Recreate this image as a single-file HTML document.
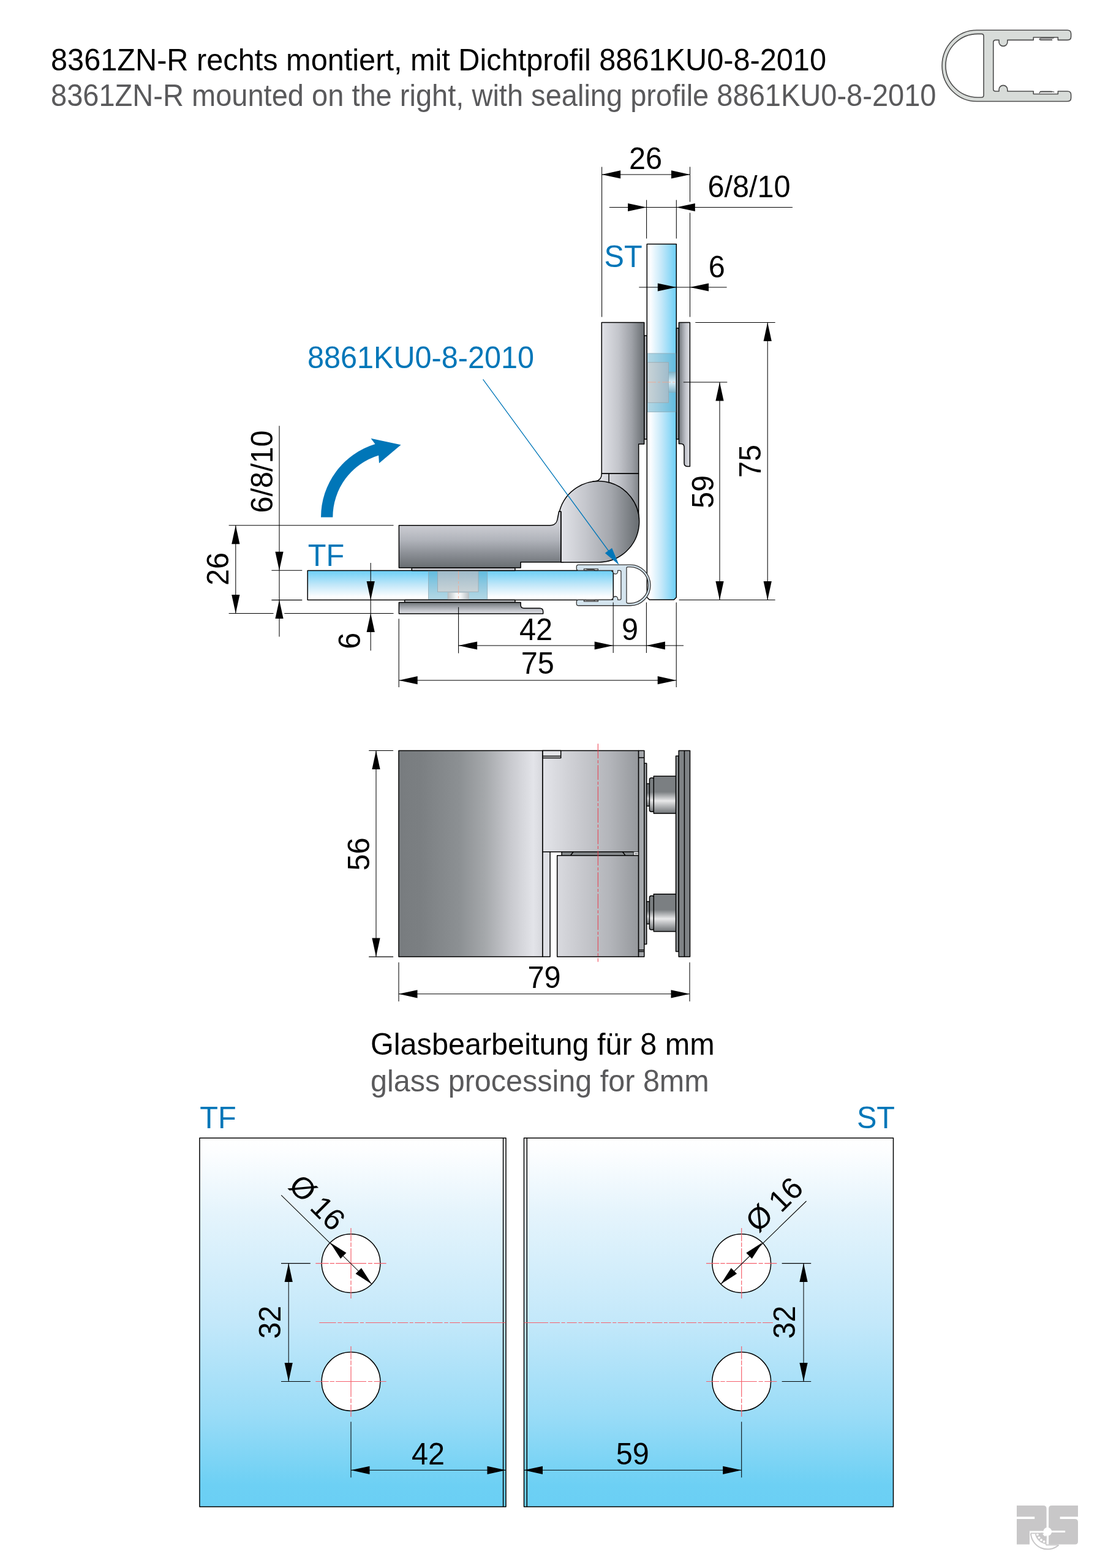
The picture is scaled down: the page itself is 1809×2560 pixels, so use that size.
<!DOCTYPE html>
<html lang="de">
<head>
<meta charset="utf-8">
<title>8361ZN-R rechts montiert, mit Dichtprofil 8861KU0-8-2010</title>
<style>
html,body{margin:0;padding:0;background:#fff;}
body{width:1809px;height:2560px;overflow:hidden;font-family:"Liberation Sans",sans-serif;}
svg{display:block;position:absolute;left:0;top:0;}
text{font-family:"Liberation Sans",sans-serif;font-size:49.5px;fill:#000;}
.g{fill:#5a5a5c;}
.b{fill:#0076b8;}
.d{stroke:#000;stroke-width:1.05;fill:none;}
.o{stroke:#000;stroke-width:1.5;stroke-linejoin:round;}
.a{fill:#000;stroke:none;}
.c{stroke:#f5606c;stroke-width:1.2;fill:none;}
</style>
</head>
<body>
<svg width="1809" height="2560" viewBox="0 0 1809 2560">
<!-- defs -->
<defs><linearGradient id="glR" x1="0" y1="0" x2="1" y2="0"><stop offset="0" stop-color="#ffffff"/><stop offset="0.12" stop-color="#fbfdff"/><stop offset="0.5" stop-color="#c4e8f9"/><stop offset="1" stop-color="#6ccff6"/></linearGradient><linearGradient id="glU" x1="0" y1="1" x2="0" y2="0"><stop offset="0" stop-color="#ffffff"/><stop offset="0.12" stop-color="#fbfdff"/><stop offset="0.5" stop-color="#c4e8f9"/><stop offset="1" stop-color="#6ccff6"/></linearGradient><linearGradient id="glD" x1="0" y1="0" x2="0" y2="1"><stop offset="0" stop-color="#ffffff"/><stop offset="0.03" stop-color="#fdfeff"/><stop offset="0.2" stop-color="#e5f4fc"/><stop offset="0.5" stop-color="#c3e8fa"/><stop offset="0.75" stop-color="#9adcf7"/><stop offset="0.94" stop-color="#6dd0f4"/><stop offset="1" stop-color="#6acff4"/></linearGradient><linearGradient id="mR" x1="0" y1="0" x2="1" y2="0"><stop offset="0" stop-color="#e2e3e8"/><stop offset="0.45" stop-color="#bfc1c8"/><stop offset="0.75" stop-color="#999da3"/><stop offset="1" stop-color="#6b7074"/></linearGradient><linearGradient id="mL" x1="0" y1="0" x2="1" y2="0"><stop offset="0" stop-color="#6b7074"/><stop offset="0.3" stop-color="#999da3"/><stop offset="0.6" stop-color="#bfc1c8"/><stop offset="1" stop-color="#e2e3e8"/></linearGradient><linearGradient id="mD" x1="0" y1="0" x2="0" y2="1"><stop offset="0" stop-color="#cfd0d6"/><stop offset="0.35" stop-color="#b4b7be"/><stop offset="0.7" stop-color="#8b8f95"/><stop offset="1" stop-color="#6b7074"/></linearGradient><linearGradient id="mU" x1="0" y1="0" x2="0" y2="1"><stop offset="0" stop-color="#6b7074"/><stop offset="0.35" stop-color="#999da3"/><stop offset="0.7" stop-color="#c3c5cb"/><stop offset="1" stop-color="#dfe0e5"/></linearGradient><linearGradient id="fA" x1="0" y1="0" x2="1" y2="0"><stop offset="0" stop-color="#787c7f"/><stop offset="0.15" stop-color="#7b7f82"/><stop offset="0.42" stop-color="#8c9093"/><stop offset="0.6" stop-color="#a5a8ab"/><stop offset="0.775" stop-color="#c8c9ce"/><stop offset="0.935" stop-color="#e3e4e9"/><stop offset="1" stop-color="#d6d7dc"/></linearGradient><linearGradient id="fB" x1="0" y1="0" x2="1" y2="0"><stop offset="0" stop-color="#e1e2e7"/><stop offset="0.4" stop-color="#c6c7cc"/><stop offset="0.75" stop-color="#aeb0b5"/><stop offset="1" stop-color="#96999d"/></linearGradient><linearGradient id="fC" x1="0" y1="0" x2="1" y2="0"><stop offset="0" stop-color="#d9dade"/><stop offset="0.4" stop-color="#c3c4c9"/><stop offset="0.75" stop-color="#aeb0b5"/><stop offset="1" stop-color="#96999d"/></linearGradient><linearGradient id="bolt" x1="0" y1="0" x2="0" y2="1"><stop offset="0" stop-color="#7b7f82"/><stop offset="0.42" stop-color="#7b7f82"/><stop offset="0.66" stop-color="#e9e9ea"/><stop offset="0.8" stop-color="#b6b8ba"/><stop offset="1" stop-color="#6e7275"/></linearGradient><linearGradient id="cylH" x1="0" y1="0" x2="1" y2="0"><stop offset="0" stop-color="#b9c0c4"/><stop offset="0.4" stop-color="#f4f6f7"/><stop offset="0.6" stop-color="#f4f6f7"/><stop offset="1" stop-color="#b9c0c4"/></linearGradient><linearGradient id="cylV" x1="0" y1="0" x2="0" y2="1"><stop offset="0" stop-color="#7fb6cc"/><stop offset="0.5" stop-color="#d9eef8"/><stop offset="1" stop-color="#7fb6cc"/></linearGradient><linearGradient id="hoV" x1="0" y1="0" x2="0" y2="1"><stop offset="0" stop-color="#a0bccb"/><stop offset="1" stop-color="#c9d3d7"/></linearGradient><linearGradient id="hoH" x1="0" y1="0" x2="1" y2="0"><stop offset="0" stop-color="#c9d3d7"/><stop offset="1" stop-color="#a0bccb"/></linearGradient></defs>
<!-- header -->
<text x="83" y="114.9" textLength="1266" lengthAdjust="spacingAndGlyphs">8361ZN-R rechts montiert, mit Dichtprofil 8861KU0-8-2010</text>
<text x="83" y="173.1" class="g" textLength="1445.5" lengthAdjust="spacingAndGlyphs">8361ZN-R mounted on the right, with sealing profile 8861KU0-8-2010</text>
<g transform="translate(1520.8 30.7) scale(1.0)"><path d="M73.98,18.50L221.95,18.50Q227.81,18.50 227.81,24.35L227.81,29.28Q227.81,34.68 221.95,34.68L206.54,34.68L206.54,30.36L166.46,30.36L166.46,34.68L124.08,34.68L124.08,37.76A6.94,6.94 0 0 1 110.20,37.76L110.20,34.68L104.81,34.68Q100.96,34.68 100.96,38.53L100.96,114.83Q100.96,118.37 104.81,118.37L110.20,118.37L110.20,115.60A6.94,6.94 0 0 1 124.08,115.60L124.08,118.37L166.46,118.37L166.46,122.84L206.54,122.84L206.54,118.37L221.95,118.37Q227.81,118.37 227.81,124.08L227.81,129.16Q227.81,134.86 221.95,134.86L73.98,134.86A56.72,58.18 0 0 1 73.98,18.50ZM81.69,24.66Q85.23,24.66 85.23,28.51L85.23,124.54Q85.23,128.24 81.69,128.24L75.52,128.24A52.40,51.79 0 0 1 75.52,24.66Z" fill="#d8dcd9" fill-rule="evenodd" stroke="#4d4d4d" stroke-width="1.600" stroke-linejoin="round"/><path d="M176.48,34.68 Q175.71,31.60 180.33,31.60 L194.20,31.60 Q199.60,31.60 200.37,30.36" fill="none" stroke="#4d4d4d" stroke-width="1.28"/><path d="M177.25,34.37 L197.29,34.37" fill="none" stroke="#4d4d4d" stroke-width="1.92"/><path d="M176.48,121.76 Q175.71,118.68 180.33,118.68 L194.20,118.68 Q199.60,118.68 200.37,119.91" fill="none" stroke="#4d4d4d" stroke-width="1.28"/><path d="M177.25,118.99 L197.29,118.99" fill="none" stroke="#4d4d4d" stroke-width="1.92"/></g>
<!-- topview -->
<defs><linearGradient id="vb" gradientUnits="userSpaceOnUse" x1="982" y1="0" x2="1052" y2="0"><stop offset="0" stop-color="#e1e2e7"/><stop offset="0.4" stop-color="#c3c5cb"/><stop offset="0.7" stop-color="#9fa2a8"/><stop offset="1" stop-color="#686d71"/></linearGradient><linearGradient id="kn" gradientUnits="userSpaceOnUse" x1="912" y1="0" x2="1044" y2="0"><stop offset="0" stop-color="#e4e5ea"/><stop offset="0.35" stop-color="#c3c5cb"/><stop offset="0.65" stop-color="#a3a6ac"/><stop offset="1" stop-color="#666b6f"/></linearGradient><linearGradient id="hb" gradientUnits="userSpaceOnUse" x1="0" y1="857" x2="0" y2="927"><stop offset="0" stop-color="#cdced4"/><stop offset="0.35" stop-color="#b1b4bb"/><stop offset="0.7" stop-color="#888c92"/><stop offset="1" stop-color="#696e72"/></linearGradient></defs>
<path class="o" fill="url(#glR)" d="M1056.3,398.6H1104.3V975.3L1100.3,979.3H1060.3L1056.3,975.3Z"/>
<rect x="1057" y="577" width="46.6" height="95.6" fill="#4fa3c4" fill-opacity="0.45" stroke="#8fa9b5" stroke-width="0.8"/>
<rect x="1057.6" y="591.7" width="34" height="65.6" fill="url(#hoH)" stroke="#9aa7ad" stroke-width="0.8"/>
<rect x="1091.6" y="607.3" width="12" height="33.3" fill="url(#cylV)" stroke="#8fa9b5" stroke-width="0.6"/>
<path d="M1057,624H1104" stroke="#f6a58c" stroke-width="0.8" stroke-dasharray="14 3 4 3" fill="none"/>
<path class="o" fill="url(#glU)" d="M502.2,931.5H998.3L1001.3,934.5V976.5L998.3,979.5H502.2Z"/>
<rect x="699.6" y="932.3" width="96.1" height="46.5" fill="#4fa3c4" fill-opacity="0.45" stroke="#8fa9b5" stroke-width="0.8"/>
<rect x="714.6" y="932.6" width="66.4" height="33.6" fill="url(#hoV)" stroke="#9aa7ad" stroke-width="0.8"/>
<rect x="731" y="967.2" width="34.5" height="11.4" fill="url(#cylH)" stroke="#b5bcc0" stroke-width="0.6"/>
<path d="M748.6,932V979" stroke="#f6a58c" stroke-width="0.8" stroke-dasharray="14 3 4 3" fill="none"/>
<rect class="o" x="1051.7" y="548" width="4.4" height="169" fill="#b4b7bc" stroke-width="1.3"/>
<rect class="o" x="1104.4" y="535.8" width="4" height="181.2" fill="#9da1a6" stroke-width="1.3"/>
<rect class="o" x="672.3" y="927" width="168.6" height="4.4" fill="#d0d1d6" stroke-width="1.3"/>
<rect class="o" x="660.7" y="979.6" width="180.2" height="3.8" fill="#c6c8cd" stroke-width="1.3"/>
<path class="o" fill="url(#mL)" d="M1108.4,526.4H1126.4V761.4H1122Q1117,761.4 1117,756V730Q1117,724.4 1111.5,724.4H1108.4Z"/>
<path class="o" fill="url(#mU)" d="M651.4,983.4H850.1V987.6Q850.1,993.1 855.6,993.1H881Q886.7,993.1 886.7,998.5V1001.9H651.4Z"/>
<path class="o" fill="url(#vb)" d="M982.3,526.4H1051.7V725H1042.7V773.3H982.3Z"/>
<path class="o" fill="url(#vb)" d="M982.3,773.3H1042.7V856H968V786Q970,786 972.5,785.6C979,784.5 982.3,781 982.3,773.3Z"/>
<path class="o" fill="none" d="M994.1,773.3V790"/>
<path class="o" fill="url(#hb)" d="M651.4,857.8H898C906.5,857.8 909.3,853.2 910.4,846L912.6,834.9H920V917.7H850.1V926.9H651.4Z"/>
<path class="o" fill="url(#kn)" stroke-width="2.4" d="M915.8,834.9V917.9H977.5A66.2,66.2 0 1 0 913.4,834.9Z"/>
<path class="o" fill="none" d="M915.8,834.9V917.9"/>
<g transform="translate(1071.8 911.5) scale(-0.573 0.573)"><path d="M73.98,18.50L221.95,18.50Q227.81,18.50 227.81,24.35L227.81,29.28Q227.81,34.68 221.95,34.68L206.54,34.68L206.54,30.36L166.46,30.36L166.46,34.68L124.08,34.68L124.08,37.76A6.94,6.94 0 0 1 110.20,37.76L110.20,34.68L104.81,34.68Q100.96,34.68 100.96,38.53L100.96,114.83Q100.96,118.37 104.81,118.37L110.20,118.37L110.20,115.60A6.94,6.94 0 0 1 124.08,115.60L124.08,118.37L166.46,118.37L166.46,122.84L206.54,122.84L206.54,118.37L221.95,118.37Q227.81,118.37 227.81,124.08L227.81,129.16Q227.81,134.86 221.95,134.86L73.98,134.86A56.72,58.18 0 0 1 73.98,18.50ZM81.69,24.66Q85.23,24.66 85.23,28.51L85.23,124.54Q85.23,128.24 81.69,128.24L75.52,128.24A52.40,51.79 0 0 1 75.52,24.66Z" fill="#d4e4ee" fill-rule="evenodd" stroke="#333" stroke-width="2.269" stroke-linejoin="round"/><path d="M176.48,34.68 Q175.71,31.60 180.33,31.60 L194.20,31.60 Q199.60,31.60 200.37,30.36" fill="none" stroke="#333" stroke-width="1.82"/><path d="M177.25,34.37 L197.29,34.37" fill="none" stroke="#333" stroke-width="2.72"/><path d="M176.48,121.76 Q175.71,118.68 180.33,118.68 L194.20,118.68 Q199.60,118.68 200.37,119.91" fill="none" stroke="#333" stroke-width="1.82"/><path d="M177.25,118.99 L197.29,118.99" fill="none" stroke="#333" stroke-width="2.72"/></g>
<path fill="#0076b8" d="M524,844.5A125.0,125.0 0 0 1 612.5,725L605.5,715.7L654.6,726.2L619,756.3L618.1,743.4A105.7,105.7 0 0 0 543.3,844.5Z"/>
<text x="502" y="601.4" text-anchor="start" class="b" textLength="370" lengthAdjust="spacingAndGlyphs">8861KU0-8-2010</text>
<path d="M788.6,619.4L1005,915" stroke="#0076b8" stroke-width="1.3" fill="none"/>
<path class="" fill="#0076b8" d="M1010.6,922.3L987.8,903L999.1,894.8Z"/>
<text x="986.6" y="436.4" text-anchor="start" class="b"  textLength="62.1" lengthAdjust="spacingAndGlyphs">ST</text>
<text x="502.8" y="923.5" text-anchor="start" class="b"  textLength="59.4" lengthAdjust="spacingAndGlyphs">TF</text>
<!-- topdims -->
<path class="d"  d="M982.6,272.4L982.6,517.5"/>
<path class="d"  d="M1126.5,272.4L1126.5,329.6"/>
<path class="d"  d="M1126.5,347.4L1126.5,517.5"/>
<path class="d"  d="M982.6,284.9L1126.5,284.9"/>
<path class="a"  d="M982.6,284.9L1013.1,278.3L1013.1,291.5Z"/>
<path class="a"  d="M1126.5,284.9L1096,291.5L1096,278.3Z"/>
<text x="1054" y="275.5" text-anchor="middle"  textLength="54.1" lengthAdjust="spacingAndGlyphs">26</text>
<path class="d"  d="M1055.6,326.4L1055.6,389.5"/>
<path class="d"  d="M1104.3,326.4L1104.3,389.5"/>
<path class="d"  d="M994.9,338.5L1293.9,338.5"/>
<path class="a"  d="M1055.6,338.5L1025.1,345.1L1025.1,331.9Z"/>
<path class="a"  d="M1104.3,338.5L1134.8,331.9L1134.8,345.1Z"/>
<text x="1223" y="322.3" text-anchor="middle"  textLength="135.1" lengthAdjust="spacingAndGlyphs">6/8/10</text>
<path class="d"  d="M1043.3,469L1186.6,469"/>
<path class="a"  d="M1104.3,469L1073.8,475.6L1073.8,462.4Z"/>
<path class="a"  d="M1126.5,469L1157,462.4L1157,475.6Z"/>
<text x="1170.3" y="452.7" text-anchor="middle"  textLength="27" lengthAdjust="spacingAndGlyphs">6</text>
<path class="d"  d="M1135.3,526.5L1265.6,526.5"/>
<path class="d"  d="M1108.6,979.4L1265.6,979.4"/>
<path class="d"  d="M1253.2,526.5L1253.2,979.4"/>
<path class="a"  d="M1253.2,526.5L1259.8,557L1246.6,557Z"/>
<path class="a"  d="M1253.2,979.4L1246.6,948.9L1259.8,948.9Z"/>
<text x="1242.3" y="753" text-anchor="middle" transform="rotate(-90 1242.3 753)"  textLength="54.1" lengthAdjust="spacingAndGlyphs">75</text>
<path class="d"  d="M1115.8,624L1187.3,624"/>
<path class="d"  d="M1175,624L1175,979.4"/>
<path class="a"  d="M1175,624L1181.6,654.5L1168.4,654.5Z"/>
<path class="a"  d="M1175,979.4L1168.4,948.9L1181.6,948.9Z"/>
<text x="1165.1" y="802.9" text-anchor="middle" transform="rotate(-90 1165.1 802.9)"  textLength="54.1" lengthAdjust="spacingAndGlyphs">59</text>
<path class="d"  d="M373.6,857.8L642.5,857.8"/>
<path class="d"  d="M373.6,1001.5L446.5,1001.5"/>
<path class="d"  d="M464.3,1001.5L642.5,1001.5"/>
<path class="d"  d="M384.8,857.8L384.8,1001.5"/>
<path class="a"  d="M384.8,857.8L391.4,888.3L378.2,888.3Z"/>
<path class="a"  d="M384.8,1001.5L378.2,971L391.4,971Z"/>
<text x="372.9" y="928.9" text-anchor="middle" transform="rotate(-90 372.9 928.9)"  textLength="54.1" lengthAdjust="spacingAndGlyphs">26</text>
<path class="d"  d="M443.4,931.3L493.3,931.3"/>
<path class="d"  d="M443.4,979.6L493.3,979.6"/>
<path class="d"  d="M456,695.3L456,1039.4"/>
<path class="a"  d="M456,931.3L449.4,900.8L462.6,900.8Z"/>
<path class="a"  d="M456,979.6L462.6,1010.1L449.4,1010.1Z"/>
<text x="445.1" y="769.9" text-anchor="middle" transform="rotate(-90 445.1 769.9)"  textLength="135.1" lengthAdjust="spacingAndGlyphs">6/8/10</text>
<path class="d"  d="M605.2,919.1L605.2,1062.2"/>
<path class="a"  d="M605.2,979.6L598.6,949.1L611.8,949.1Z"/>
<path class="a"  d="M605.2,1001.5L611.8,1032L598.6,1032Z"/>
<text x="588.2" y="1046.2" text-anchor="middle" transform="rotate(-90 588.2 1046.2)"  textLength="27" lengthAdjust="spacingAndGlyphs">6</text>
<path class="d"  d="M748.6,991.3L748.6,1066.4"/>
<path class="d"  d="M1001.2,983.5L1001.2,1065.9"/>
<path class="d"  d="M1055.4,983.5L1055.4,1065.9"/>
<path class="d"  d="M748.6,1054L1116,1054"/>
<path class="a"  d="M748.6,1054L779.1,1047.4L779.1,1060.6Z"/>
<path class="a"  d="M1001.2,1054L970.7,1060.6L970.7,1047.4Z"/>
<path class="a"  d="M1055.4,1054L1085.9,1047.4L1085.9,1060.6Z"/>
<text x="875" y="1044.7" text-anchor="middle"  textLength="54.1" lengthAdjust="spacingAndGlyphs">42</text>
<text x="1028.6" y="1044.5" text-anchor="middle"  textLength="27" lengthAdjust="spacingAndGlyphs">9</text>
<path class="d"  d="M651.2,1010.3L651.2,1122"/>
<path class="d"  d="M1104.2,983.5L1104.2,1122"/>
<path class="d"  d="M651.2,1110.7L1104.2,1110.7"/>
<path class="a"  d="M651.2,1110.7L681.7,1104.1L681.7,1117.3Z"/>
<path class="a"  d="M1104.2,1110.7L1073.7,1117.3L1073.7,1104.1Z"/>
<text x="877.7" y="1099.8" text-anchor="middle"  textLength="54.1" lengthAdjust="spacingAndGlyphs">75</text>
<!-- front -->
<defs><linearGradient id="fr" gradientUnits="userSpaceOnUse" x1="886" y1="0" x2="1043" y2="0"><stop offset="0" stop-color="#e3e4e9"/><stop offset="0.35" stop-color="#cbccd1"/><stop offset="0.7" stop-color="#b3b5ba"/><stop offset="1" stop-color="#95989c"/></linearGradient></defs>
<rect class="o" x="651" y="1225.5" width="235" height="336.6" fill="url(#fA)"/>
<rect class="o" x="886" y="1225.5" width="156.6" height="165.2" fill="url(#fr)"/>
<rect class="o" x="886" y="1225.5" width="29.7" height="12" fill="#e4e5e9" stroke-width="1.3"/>
<path class="o" d="M886,1234.5H915.7" fill="none" stroke-width="1.3"/>
<rect class="o" x="886" y="1390.7" width="12.1" height="171.4" fill="#dfe0e5"/>
<path class="o" d="M917.1,1390.7H1034.5V1396.8H917.1Z" fill="#84888b" stroke-width="1.3"/>
<path class="o" d="M931.5,1396.8L936,1390.7M1021,1396.8L1016.5,1390.7" fill="none" stroke-width="1.2"/>
<rect x="1034.5" y="1390.7" width="8.1" height="6.1" fill="#a5a8ac"/>
<rect x="1035.6" y="1391.8" width="6.2" height="3.9" rx="1" fill="none" stroke="#fff" stroke-width="1.1"/>
<rect class="o" x="909.7" y="1396.8" width="132.9" height="165.3" fill="url(#fr)"/>
<rect class="o" x="1042.6" y="1225.5" width="9.2" height="336.6" fill="#a5a8ac"/>
<path class="o" d="M1042.6,1237.1H1051.8M1042.6,1550.9H1051.8M1042.6,1553.5H1051.8" fill="none" stroke-width="1.2"/>
<rect class="o" x="1051.8" y="1246.3" width="3.9" height="295.1" fill="#999ca0" stroke-width="1.3"/>
<rect class="o" x="1055.7" y="1279.5" width="5" height="36.4" fill="url(#bolt)" stroke-width="1.2"/><rect class="o" x="1060.4" y="1270.1" width="7.5" height="55.2" rx="3" ry="3" fill="url(#bolt)" stroke-width="1.2"/><rect class="o" x="1067.3" y="1267.3" width="36.4" height="60.8" fill="url(#bolt)" stroke-width="1.2"/>
<rect class="o" x="1055.7" y="1472" width="5" height="36.5" fill="url(#bolt)" stroke-width="1.2"/><rect class="o" x="1060.4" y="1462.6" width="7.5" height="55.3" rx="3" ry="3" fill="url(#bolt)" stroke-width="1.2"/><rect class="o" x="1067.3" y="1459.8" width="36.4" height="60.9" fill="url(#bolt)" stroke-width="1.2"/>
<rect class="o" x="1103.5" y="1234.2" width="4.7" height="319.3" fill="#8e9295" stroke-width="1.3"/>
<rect class="o" x="1108.2" y="1225.5" width="18.3" height="336.6" fill="#7f8386"/>
<path class="o" d="M1117.4,1225.5V1562.1" fill="none" stroke-width="1.3"/>
<path d="M976.3,1214.2V1570.4" stroke="#ee3b4a" stroke-width="1" stroke-dasharray="24 3 5 3" fill="none"/>
<path class="d"  d="M602.2,1225.5L642.1,1225.5"/>
<path class="d"  d="M602.2,1562.1L642.1,1562.1"/>
<path class="d"  d="M614,1225.5L614,1562.1"/>
<path class="a"  d="M614,1225.5L620.6,1256L607.4,1256Z"/>
<path class="a"  d="M614,1562.1L607.4,1531.6L620.6,1531.6Z"/>
<text x="602.6" y="1394.5" text-anchor="middle" transform="rotate(-90 602.6 1394.5)"  textLength="54.1" lengthAdjust="spacingAndGlyphs">56</text>
<path class="d"  d="M651,1571.3L651,1635"/>
<path class="d"  d="M1126,1571.3L1126,1635"/>
<path class="d"  d="M651,1622.8L1126,1622.8"/>
<path class="a"  d="M651,1622.8L681.5,1616.2L681.5,1629.4Z"/>
<path class="a"  d="M1126,1622.8L1095.5,1629.4L1095.5,1616.2Z"/>
<text x="888.5" y="1613.1" text-anchor="middle"  textLength="54.1" lengthAdjust="spacingAndGlyphs">79</text>
<!-- glass -->
<text x="605" y="1722.1" textLength="561.6" lengthAdjust="spacingAndGlyphs">Glasbearbeitung für 8 mm</text>
<text x="605" y="1781.6" class="g" textLength="552.7" lengthAdjust="spacingAndGlyphs">glass processing for 8mm</text>
<text x="326.2" y="1842.3" text-anchor="start" class="b"  textLength="59.4" lengthAdjust="spacingAndGlyphs">TF</text>
<text x="1461" y="1842.3" text-anchor="end" class="b"  textLength="62.1" lengthAdjust="spacingAndGlyphs">ST</text>
<rect class="o" x="325.9" y="1858.1" width="500.1" height="601.8" fill="url(#glD)"/>
<path class="o" d="M821.6,1858.1V2459.9" fill="none" stroke-width="1.2"/>
<rect class="o" x="855.5" y="1858.1" width="603" height="601.8" fill="url(#glD)"/>
<path class="o" d="M860.3,1858.1V2459.9" fill="none" stroke-width="1.2"/>
<path class="c" d="M521.2,2159.5H548.7M551.3,2159.5H558.4M560.9,2159.5H585.3M587.9,2159.5H594M596.9,2159.5H637.6M640.2,2159.5H646.7M649,2159.5H666.3M668.7,2159.5H674.8M677.2,2159.5H694.1M696.8,2159.5H703.3M705.7,2159.5H722.6M725.3,2159.5H731.8M734.2,2159.5H751.1M753.7,2159.5H825.4"/>
<path class="c" d="M855.7,2159.5H895.1M897.5,2159.5H914.1M916.5,2159.5H922.7M925.5,2159.5H941.7M944.4,2159.5H950.7M953.4,2159.5H969.7M972.4,2159.5H978.6M981.1,2159.5H997.6M1000.1,2159.5H1006.3M1008.7,2159.5H1025.8M1028.3,2159.5H1034.2M1036.7,2159.5H1053.5M1056,2159.5H1061.9M1064.6,2159.5H1081.5M1083.9,2159.5H1089.9M1092.3,2159.5H1109.4M1111.8,2159.5H1117.8M1120.2,2159.5H1137.1M1139.5,2159.5H1145.5M1147.9,2159.5H1179.1M1181.6,2159.5H1187.5M1190,2159.5H1206.3M1209,2159.5H1215.2M1217.9,2159.5H1233.9M1236.6,2159.5H1242.6M1245,2159.5H1261.9"/>
<circle class="o" cx="573" cy="2062.6" r="47.9" fill="#fff"/><path class="c" d="M515.3,2062.6H630.6M573,2005.1V2120" stroke-dasharray="21.4 1.9 7.4 2.1 49.9 2.9 7.1 2.5 20.1 0"/>
<circle class="o" cx="573" cy="2255.5" r="47.9" fill="#fff"/><path class="c" d="M515.3,2255.5H630.6M573,2198V2312.9" stroke-dasharray="21.4 1.9 7.4 2.1 49.9 2.9 7.1 2.5 20.1 0"/>
<circle class="o" cx="1210.7" cy="2062.6" r="47.9" fill="#fff"/><path class="c" d="M1153,2062.6H1268.3M1210.7,2005.1V2120" stroke-dasharray="21.4 1.9 7.4 2.1 49.9 2.9 7.1 2.5 20.1 0"/>
<circle class="o" cx="1210.7" cy="2255.5" r="47.9" fill="#fff"/><path class="c" d="M1153,2255.5H1268.3M1210.7,2198V2312.9" stroke-dasharray="21.4 1.9 7.4 2.1 49.9 2.9 7.1 2.5 20.1 0"/>
<path class="d"  d="M459,2062.6L506.8,2062.6"/>
<path class="d"  d="M459,2255.5L506.8,2255.5"/>
<path class="d"  d="M471.2,2062.6L471.2,2255.5"/>
<path class="a"  d="M471.2,2062.6L477.8,2093.1L464.6,2093.1Z"/>
<path class="a"  d="M471.2,2255.5L464.6,2225L477.8,2225Z"/>
<text x="458" y="2158.8" text-anchor="middle" transform="rotate(-90 458 2158.8)"  textLength="54.1" lengthAdjust="spacingAndGlyphs">32</text>
<path class="d"  d="M573,2321.2L573,2412.2"/>
<path class="d"  d="M573,2400.3L826,2400.3"/>
<path class="a"  d="M573,2400.3L603.5,2393.7L603.5,2406.9Z"/>
<path class="a"  d="M826,2400.3L795.5,2406.9L795.5,2393.7Z"/>
<text x="699.1" y="2391.4" text-anchor="middle"  textLength="54.1" lengthAdjust="spacingAndGlyphs">42</text>
<path class="d"  d="M459.2,1951.3L606.9,2096.5"/>
<path class="a"  d="M606.9,2096.5L580.6,2079.6L590,2070.2Z"/>
<path class="a"  d="M539.1,2028.7L565.4,2045.6L556,2055Z"/>
<text x="469.1" y="1938.2" dx="0 -2.7" dy="0 0.1" text-anchor="start" transform="rotate(45 469.1 1938.2)">Ø 16</text>
<path class="d"  d="M1276.6,2062.6L1324.2,2062.6"/>
<path class="d"  d="M1276.6,2255.5L1324.2,2255.5"/>
<path class="d"  d="M1312,2062.6L1312,2255.5"/>
<path class="a"  d="M1312,2062.6L1318.6,2093.1L1305.4,2093.1Z"/>
<path class="a"  d="M1312,2255.5L1305.4,2225L1318.6,2225Z"/>
<text x="1298.5" y="2158.8" text-anchor="middle" transform="rotate(-90 1298.5 2158.8)"  textLength="54.1" lengthAdjust="spacingAndGlyphs">32</text>
<path class="d"  d="M1210.7,2321.2L1210.7,2412.2"/>
<path class="d"  d="M855.5,2400.3L1210.7,2400.3"/>
<path class="a"  d="M855.5,2400.3L886,2393.7L886,2406.9Z"/>
<path class="a"  d="M1210.7,2400.3L1180.2,2406.9L1180.2,2393.7Z"/>
<text x="1032.8" y="2391.4" text-anchor="middle"  textLength="54.1" lengthAdjust="spacingAndGlyphs">59</text>
<path class="d"  d="M1176.8,2096.5L1316.5,1961"/>
<path class="a"  d="M1176.8,2096.5L1193.7,2070.2L1203.1,2079.6Z"/>
<path class="a"  d="M1244.6,2028.7L1227.7,2055L1218.3,2045.6Z"/>
<text x="1237.9" y="2014.1" dx="0 -2.8" dy="0 3.5" text-anchor="start" transform="rotate(-45 1237.9 2014.1)">Ø 16</text>
<!-- logo -->
<path fill="#c8c7c8" d="M1660,2458H1703.4Q1708.6,2458 1708.6,2463.1V2499.6H1681V2521.6H1660V2479.9H1689.2V2476.3H1660Z"/>
<path fill="#c8c7c8" d="M1717.2,2458H1760V2476.3H1730.6V2479.9H1754.8Q1760,2479.9 1760,2485.1V2516.8Q1760,2521.6 1755.2,2521.6H1712.1V2502.1H1739.1V2499.1H1712.1V2463.1Q1712.1,2458 1717.2,2458Z"/>
<path fill="none" stroke="#c8c7c8" stroke-width="2" d="M1682.9,2503.4A27.4,27.4 0 0 0 1728.5,2522.4"/>
<path fill="none" stroke="#c8c7c8" stroke-width="12" d="M1695.8,2503.4A14.5,14.5 0 0 0 1708.2,2515"/>
<path fill="none" stroke="#c8c7c8" stroke-width="1.6" d="M1682.9,2503.4H1703.9M1707.8,2522.4H1728.5M1707.8,2507.3V2522.4"/>
<circle cx="1693.9" cy="2505.6" r="1.9" fill="#fff"/>
<circle cx="1696.5" cy="2510.3" r="1.9" fill="#fff"/>
<circle cx="1700" cy="2514.2" r="1.9" fill="#fff"/>
<circle cx="1704.6" cy="2516.8" r="1.9" fill="#fff"/>
<circle cx="1710.3" cy="2500.7" r="6.9" fill="#fff"/>
</svg>
</body>
</html>
